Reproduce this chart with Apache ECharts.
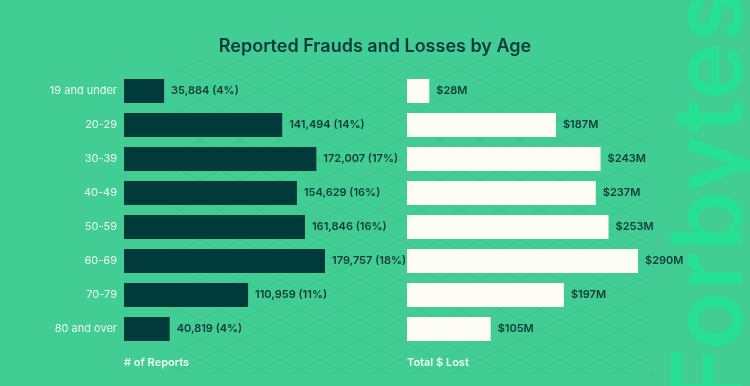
<!DOCTYPE html>
<html><head><meta charset="utf-8">
<script src="https://cdn.jsdelivr.net/npm/echarts@6/dist/echarts.min.js"></script>
<style>html,body{margin:0;padding:0;background:#41cd93;}#c{width:750px;height:386px;}</style>
</head><body><div id="c"></div>
<script>
const categories = ['19 and under','20-29','30-39','40-49','50-59','60-69','70-79','80 and over'];
const reports = [35884,141494,172007,154629,161846,179757,110959,40819];
const reportPct = [4,14,17,16,16,18,11,4];
const losses = [28,187,243,237,253,290,197,105];
const axisTitles = ['# of Reports','Total $ Lost'];

const chart = echarts.init(document.getElementById('c'));
const F = 'Inter, "Noto Sans", sans-serif';
const darkTxt = '#0f3a3a';

// decorative lattice background
const lattice = [];
const R = {x0: 175, x1: 655, y0: 60, y1: 375};
[0.5, -0.5].forEach(s => {
  for (let c = -600; c <= 800; c += 20) {
    let xa = (R.y0 - c) / s, xb = (R.y1 - c) / s;
    if (xa > xb) { const t = xa; xa = xb; xb = t; }
    xa = Math.max(xa, R.x0); xb = Math.min(xb, R.x1);
    if (xa < xb) {
      lattice.push({type: 'line', z: -10, silent: true,
        shape: {x1: xa, y1: s * xa + c, x2: xb, y2: s * xb + c},
        style: {stroke: 'rgba(20,110,75,0.08)', lineWidth: 1}});
    }
  }
});

chart.setOption({
  backgroundColor: '#41cd93',
  animation: false,
  title: {text: 'Reported Frauds and Losses by Age', left: 'center', top: 33,
    textStyle: {fontFamily: F, fontSize: 18, fontWeight: 600, color: '#0e3a3b'}},
  graphic: lattice.concat([
    {type: 'text', z: 0, rotation: Math.PI/2, x: 761, y: 404,
     style: {text: 'Forbytes', font: '600 97px Inter', fill: '#22e493', opacity: 0.85, textAlign: 'left', textVerticalAlign: 'bottom'}},
    {type: 'text', left: 124, top: 357, style: {text: axisTitles[0], font: '600 11px Inter', fill: '#f4fbf4'}},
    {type: 'text', left: 407, top: 357, style: {text: axisTitles[1], font: '600 11px Inter', fill: '#f4fbf4'}}
  ]),
  grid: [
    {left: 124, top: 74, width: 201, height: 272},
    {left: 407, top: 74, width: 231, height: 272}
  ],
  xAxis: [
    {gridIndex: 0, type: 'value', min: 0, max: 'dataMax', show: false},
    {gridIndex: 1, type: 'value', min: 0, max: 'dataMax', show: false}
  ],
  yAxis: [
    {gridIndex: 0, type: 'category', data: categories, inverse: true,
     axisLine: {show: false}, axisTick: {show: false}, splitLine: {show: false},
     axisLabel: {color: '#eef8f0', fontFamily: F, fontSize: 11, margin: 7}},
    {gridIndex: 1, type: 'category', data: categories, inverse: true, show: false}
  ],
  series: [
    {type: 'bar', xAxisIndex: 0, yAxisIndex: 0, data: reports, barWidth: 24,
     itemStyle: {color: '#013a3a'},
     label: {show: true, position: 'right', distance: 7, color: darkTxt, fontFamily: F, fontSize: 11, fontWeight: 600,
       formatter: p => p.value.toLocaleString('en-US') + ' (' + reportPct[p.dataIndex] + '%)'}},
    {type: 'bar', xAxisIndex: 1, yAxisIndex: 1, data: losses, barWidth: 24,
     itemStyle: {color: '#fdfdf5'},
     label: {show: true, position: 'right', distance: 7, color: darkTxt, fontFamily: F, fontSize: 11, fontWeight: 600,
       formatter: p => '$' + p.value + 'M'}}
  ]
});
</script></body></html>
